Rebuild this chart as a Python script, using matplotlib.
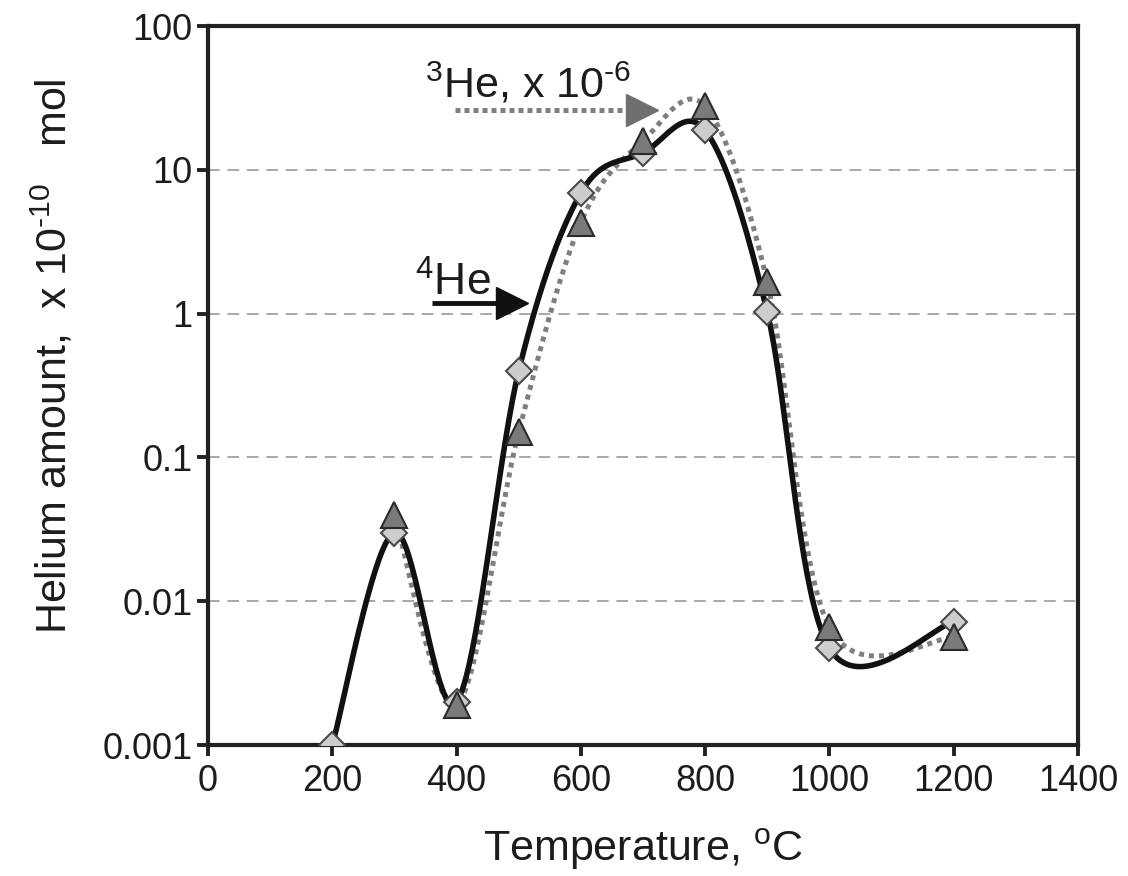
import numpy as np
import matplotlib
matplotlib.use("Agg")
import matplotlib.pyplot as plt
from matplotlib.ticker import NullLocator

plt.rcParams['font.family'] = ['Liberation Sans', 'DejaVu Sans']
plt.rcParams['mathtext.fontset'] = 'custom'
plt.rcParams['mathtext.rm'] = 'Liberation Sans'
plt.rcParams['mathtext.it'] = 'Liberation Sans'
plt.rcParams['text.color'] = '#1c1c1c'
plt.rcParams['axes.labelcolor'] = '#1c1c1c'
plt.rcParams['xtick.labelcolor'] = '#1c1c1c'
plt.rcParams['ytick.labelcolor'] = '#1c1c1c'

# 4He (diamonds, solid line), x 10^-10 mol
temp_he4 = [200, 300, 400, 500, 600, 700, 800, 900, 1000, 1200]
he4 = [0.001, 0.03, 0.002, 0.4, 6.9, 13.1, 18.8, 1.02, 0.0047, 0.0072]

# 3He (triangles, dotted line), x 10^-16 mol
temp_he3 = [300, 400, 500, 600, 700, 800, 900, 1000, 1200]
he3 = [0.04, 0.0019, 0.15, 4.3, 15.9, 27.6, 1.66, 0.0066, 0.0056]

x_ticks = [0, 200, 400, 600, 800, 1000, 1200, 1400]
y_ticks = [0.001, 0.01, 0.1, 1, 10, 100]
y_tick_labels = ['0.001', '0.01', '0.1', '1', '10', '100']

HY = '\u2010'  # plain hyphen, mathtext turns '-' into a long minus


def smooth(xs, ys, n=40):
    # excel-like bezier smoothing, done in screen-ish units (x, log y)
    u = np.array(xs, float) * 870 / 1400
    v = np.log10(ys) * 143.8
    P = np.column_stack([u, v])
    out = []
    for i in range(len(P) - 1):
        p0 = P[i - 1] if i > 0 else P[i]
        p1 = P[i]
        p2 = P[i + 1]
        p3 = P[i + 2] if i + 2 < len(P) else P[i + 1]
        c1 = p1 + (p2 - p0) / 6
        c2 = p2 - (p3 - p1) / 6
        t = np.linspace(0, 1, n)[:, None]
        seg = (1 - t)**3 * p1 + 3 * (1 - t)**2 * t * c1 + 3 * (1 - t) * t**2 * c2 + t**3 * p2
        out.append(seg if i == 0 else seg[1:])
    out = np.vstack(out)
    return out[:, 0] * 1400 / 870, 10**(out[:, 1] / 143.8)


fig = plt.figure(figsize=(11.28, 8.76), dpi=100)
ax = fig.add_axes([0.1844, 0.1495, 0.7713, 0.8208])
ax.set_yscale('log')
ax.set_xlim(0, 1400)
ax.set_ylim(0.001, 100)

for g in [0.01, 0.1, 1, 10]:
    ax.axhline(g, color='#a8a8a8', lw=1.4, ls=(0, (6, 4)), zorder=1)

sx3, sy3 = smooth(temp_he3, he3)
ax.plot(sx3, sy3, color='#7f7f7f', lw=3.6, ls=(0, (1, 1)), zorder=2)
sx4, sy4 = smooth(temp_he4, he4)
ax.plot(sx4, sy4, color='#111111', lw=4, solid_capstyle='round', zorder=3)

ax.plot(temp_he4, he4, 'D', ms=13, mfc='#cdcdcd', mec='#4a4a4a', mew=1.5, zorder=4)
ax.plot(temp_he3, he3, '^', ms=19, mfc='#7a7a7a', mec='#2a2a2a', mew=1.5, zorder=5)

# annotation arrows
ax.plot([360, 480], [1.19, 1.19], color='#111111', lw=3.5, solid_capstyle='butt', zorder=3)
ax.plot([489], [1.19], '>', ms=23, color='#111111', zorder=3)
ax.text(333, 1.33, r'$^{\mathregular{4}}$He', fontsize=32, ha='left', va='baseline')

ax.plot([397, 679], [26.1, 26.1], color='#7f7f7f', lw=3.6, ls=(0, (1, 0.8)), zorder=3)
ax.plot([698], [26.1], '>', ms=23, color='#6f6f6f', zorder=3)
ax.text(349, 31.6, r'$^{\mathregular{3}}$He, x 10$^{\mathregular{' + HY + '6}}$', fontsize=31,
        ha='left', va='baseline')

ax.set_xticks(x_ticks)
ax.set_xticklabels([str(t) for t in x_ticks])
ax.set_yticks(y_ticks)
ax.set_yticklabels(y_tick_labels)
ax.yaxis.set_minor_locator(NullLocator())
ax.tick_params(axis='both', labelsize=26, width=2.8, length=8, direction='out', color='#222222')
ax.tick_params(axis='x', pad=6)
ax.tick_params(axis='y', pad=3)
for s in ax.spines.values():
    s.set_linewidth(3)
    s.set_color('#222222')

ax.set_xlabel(r'Temperature, $^{\mathregular{o}}$C', fontsize=31)
ax.xaxis.set_label_coords(0.5, -0.114)
ax.set_ylabel(r'Helium amount,  x 10$^{\mathregular{' + HY + '10}}$   mol', fontsize=31)
ax.yaxis.set_label_coords(-0.152, 0.541)

fig.savefig('out.png', dpi=100)
